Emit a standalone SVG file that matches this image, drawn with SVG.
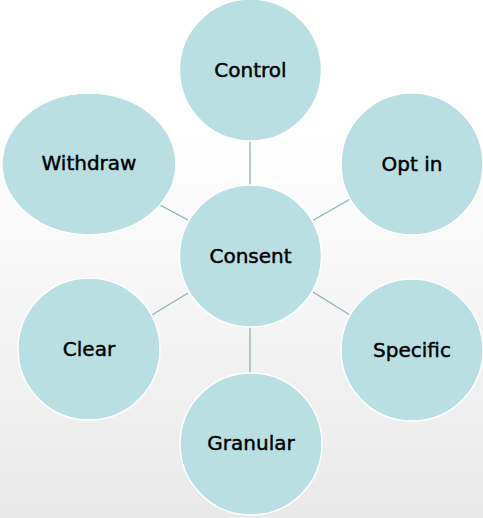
<svg xmlns="http://www.w3.org/2000/svg" width="483" height="518" viewBox="0 0 483 518">
<defs>
<linearGradient id="bg" x1="0" y1="0" x2="0" y2="1">
<stop offset="0" stop-color="#ffffff"/>
<stop offset="0.25" stop-color="#ffffff"/>
<stop offset="1" stop-color="#e9e9e9"/>
</linearGradient>
</defs>
<style>
.n{fill:#b9dfe3;stroke:#ffffff;stroke-width:1.5}
.t{font-family:"DejaVu Sans",Verdana,sans-serif;font-size:20px;fill:#000000;stroke:#000000;stroke-width:0.45;text-anchor:middle}
.c line{stroke:#8fb1b8;stroke-width:1.3}
</style>
<rect width="483" height="518" fill="url(#bg)"/>
<g class="c" id="connectors">
<line x1="250" y1="141" x2="250" y2="185"/>
<line x1="312" y1="221" x2="352" y2="198"/>
<line x1="313" y1="292" x2="350" y2="315"/>
<line x1="250" y1="327" x2="250" y2="373"/>
<line x1="188" y1="293" x2="152" y2="315"/>
<line x1="188" y1="220" x2="160" y2="205"/>
</g>
<g id="consent"><circle class="n" cx="250.5" cy="256" r="71"/><text class="t" x="250.5" y="263">Consent</text></g>
<g id="control"><circle class="n" cx="250.5" cy="70" r="71"/><text class="t" x="250.5" y="77">Control</text></g>
<g id="optin"><circle class="n" cx="412" cy="164" r="71"/><text class="t" x="412" y="171">Opt in</text></g>
<g id="specific"><circle class="n" cx="412" cy="350" r="71"/><text class="t" x="412" y="357">Specific</text></g>
<g id="granular"><circle class="n" cx="251" cy="444" r="71"/><text class="t" x="251" y="450">Granular</text></g>
<g id="clear"><circle class="n" cx="89" cy="349" r="71"/><text class="t" x="89" y="356">Clear</text></g>
<g id="withdraw"><ellipse class="n" cx="89" cy="164" rx="87" ry="71"/><text class="t" x="89" y="170">Withdraw</text></g>
</svg>
